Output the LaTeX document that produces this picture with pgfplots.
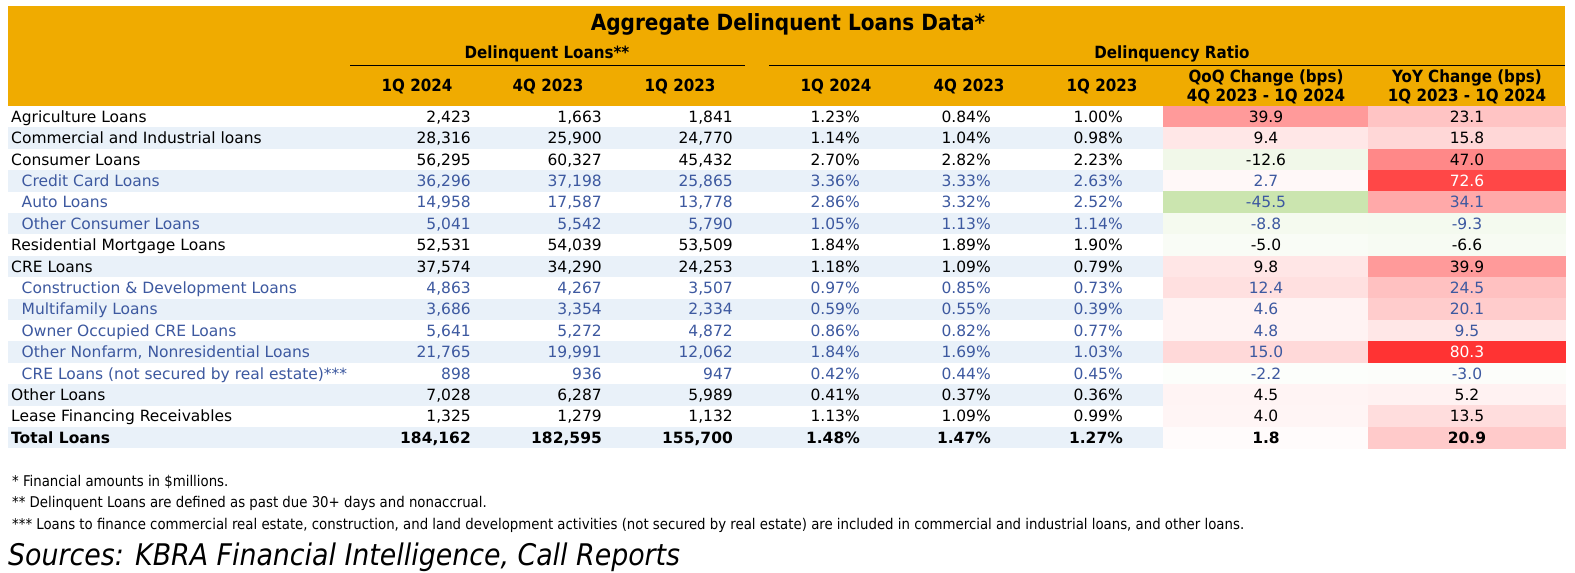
\documentclass[border=0pt]{standalone}
\usepackage{fontspec}
\setmainfont{DejaVu Sans}
\newfontfamily\condfont{DejaVu Sans Condensed}
\usepackage{pgfplots}
\usepackage{pgfplotstable}
\pgfplotsset{compat=1.18}
\pgfkeys{/pgf/number format/assume math mode=true}
\definecolor{hdr}{RGB}{240,171,0}
\definecolor{band}{RGB}{233,241,249}
\definecolor{subblue}{RGB}{61,89,160}

% r = row index, typ = row type (0 main, 1 sub-item, 2 total)
\pgfplotstableread{
r  typ c1     c2     c3     c4    c5    c6    c7     c8
0  0   2423   1663   1841   1.23  0.84  1.00  39.9   23.1
1  0   28316  25900  24770  1.14  1.04  0.98  9.4    15.8
2  0   56295  60327  45432  2.70  2.82  2.23  -12.6  47.0
3  1   36296  37198  25865  3.36  3.33  2.63  2.7    72.6
4  1   14958  17587  13778  2.86  3.32  2.52  -45.5  34.1
5  1   5041   5542   5790   1.05  1.13  1.14  -8.8   -9.3
6  0   52531  54039  53509  1.84  1.89  1.90  -5.0   -6.6
7  0   37574  34290  24253  1.18  1.09  0.79  9.8    39.9
8  1   4863   4267   3507   0.97  0.85  0.73  12.4   24.5
9  1   3686   3354   2334   0.59  0.55  0.39  4.6    20.1
10 1   5641   5272   4872   0.86  0.82  0.77  4.8    9.5
11 1   21765  19991  12062  1.84  1.69  1.03  15.0   80.3
12 1   898    936    947    0.42  0.44  0.45  -2.2   -3.0
13 0   7028   6287   5989   0.41  0.37  0.36  4.5    5.2
14 0   1325   1279   1132   1.13  1.09  0.99  4.0    13.5
15 2   184162 182595 155700 1.48  1.47  1.27  1.8    20.9
}\loandata

\newcommand{\bodyfont}{\fontsize{15.5}{18}\selectfont}
\newcommand{\hdrfont}{\condfont\bfseries\fontsize{16.8}{19}\selectfont}

% cell/.style: #1 = cap height of the font, so that the node centre sits mid-cap
\tikzset{cell/.style={inner sep=0pt, text height=#1, text depth=0pt}}
\pgfplotsset{
  vals/.style n args={3}{draw=none, mark=none, forget plot, point meta=explicit,
    nodes near coords={#2},
    every node near coord/.append style={anchor=#1, inner sep=0pt, text height=11.3pt,
      text depth=0pt, font=\bodyfont, text=#3}},
  sel/.style={restrict expr to domain={\thisrow{typ}}{#1}},
  heatcell/.style={scatter, only marks, mark=square*, mark size=10.7pt,
    point meta=explicit, point meta rel=per plot,
    point meta min=-80.3, point meta max=80.3,
    scatter/use mapped color={draw=mapped color, fill=mapped color},
    forget plot},
}
\newcommand{\rowy}{106+21.4*(\thisrow{r}+0.5)}
% #1 column, #2 x position, #3 anchor, #4 number format
\newcommand{\valcolumn}[4]{%
  \addplot[vals={#3}{#4}{black}, sel={-0.5:0.5}] table[x expr=#2, y expr={\rowy}, meta=#1] {\loandata};
  \addplot[vals={#3}{#4}{subblue}, sel={0.5:1.5}] table[x expr=#2, y expr={\rowy}, meta=#1] {\loandata};
  \addplot[vals={#3}{\bfseries #4}{black}, sel={1.5:2.5}] table[x expr=#2, y expr={\rowy}, meta=#1] {\loandata};
}

\begin{document}
\begin{tikzpicture}
\begin{axis}[
  width=1575pt, height=573pt, scale only axis,
  xmin=0, xmax=1575, ymin=0, ymax=573, y dir=reverse,
  hide axis, clip=false,
  colormap={heat}{rgb255=(163,209,114) rgb255=(255,255,255) rgb255=(255,51,51)},
]
% background and header band
\fill[white] (axis cs:0,0) rectangle (axis cs:1575,573);
\fill[hdr] (axis cs:8,6) rectangle (axis cs:1565,106);
% alternating row bands
\pgfplotsinvokeforeach{1,3,5,7,9,11,13,15}{
  \fill[band] (axis cs:8,{106+21.4*#1}) rectangle (axis cs:1163,{106+21.4*(#1+1)});
}
% heat-map cells
\addplot[heatcell, every mark/.append style={xscale=9.58}]
  table[x expr=1265.5, y expr={\rowy}, meta=c7] {\loandata};
\addplot[heatcell, every mark/.append style={xscale=9.21}]
  table[x expr=1466.5, y expr={\rowy}, meta=c8] {\loandata};

% header rules
\draw[line width=1.3pt] (axis cs:350,65.5) -- (axis cs:745,65.5);
\draw[line width=1.3pt] (axis cs:769,65.5) -- (axis cs:1565,65.5);

% header texts
\node[cell=16.2pt, font=\condfont\bfseries\fontsize{22.3}{26}\selectfont] at (axis cs:788,22.5) {Aggregate Delinquent Loans Data*};
\node[cell=12.2pt, font=\hdrfont] at (axis cs:547,52.5) {Delinquent Loans**};
\node[cell=12.2pt, font=\hdrfont] at (axis cs:1172,52.5) {Delinquency Ratio};
\node[cell=12.2pt, font=\hdrfont] at (axis cs:417,85.5) {1Q 2024};
\node[cell=12.2pt, font=\hdrfont] at (axis cs:548,85.5) {4Q 2023};
\node[cell=12.2pt, font=\hdrfont] at (axis cs:680,85.5) {1Q 2023};
\node[cell=12.2pt, font=\hdrfont] at (axis cs:836,85.5) {1Q 2024};
\node[cell=12.2pt, font=\hdrfont] at (axis cs:969,85.5) {4Q 2023};
\node[cell=12.2pt, font=\hdrfont] at (axis cs:1102,85.5) {1Q 2023};
\node[cell=12.2pt, font=\hdrfont] at (axis cs:1266,76) {QoQ Change (bps)};
\node[cell=12.2pt, font=\hdrfont] at (axis cs:1266,95) {4Q 2023 - 1Q 2024};
\node[cell=12.2pt, font=\hdrfont] at (axis cs:1467,76) {YoY Change (bps)};
\node[cell=12.2pt, font=\hdrfont] at (axis cs:1467,95) {1Q 2023 - 1Q 2024};

% row labels
\node[cell=11.3pt, anchor=west, font=\bodyfont] at (axis cs:11,{106+21.4*0.5}) {Agriculture Loans};
\node[cell=11.3pt, anchor=west, font=\bodyfont] at (axis cs:11,{106+21.4*1.5}) {Commercial and Industrial loans};
\node[cell=11.3pt, anchor=west, font=\bodyfont] at (axis cs:11,{106+21.4*2.5}) {Consumer Loans};
\node[cell=11.3pt, anchor=west, font=\bodyfont, text=subblue] at (axis cs:21.5,{106+21.4*3.5}) {Credit Card Loans};
\node[cell=11.3pt, anchor=west, font=\bodyfont, text=subblue] at (axis cs:21.5,{106+21.4*4.5}) {Auto Loans};
\node[cell=11.3pt, anchor=west, font=\bodyfont, text=subblue] at (axis cs:21.5,{106+21.4*5.5}) {Other Consumer Loans};
\node[cell=11.3pt, anchor=west, font=\bodyfont] at (axis cs:11,{106+21.4*6.5}) {Residential Mortgage Loans};
\node[cell=11.3pt, anchor=west, font=\bodyfont] at (axis cs:11,{106+21.4*7.5}) {CRE Loans};
\node[cell=11.3pt, anchor=west, font=\bodyfont, text=subblue] at (axis cs:21.5,{106+21.4*8.5}) {Construction \& Development Loans};
\node[cell=11.3pt, anchor=west, font=\bodyfont, text=subblue] at (axis cs:21.5,{106+21.4*9.5}) {Multifamily Loans};
\node[cell=11.3pt, anchor=west, font=\bodyfont, text=subblue] at (axis cs:21.5,{106+21.4*10.5}) {Owner Occupied CRE Loans};
\node[cell=11.3pt, anchor=west, font=\bodyfont, text=subblue] at (axis cs:21.5,{106+21.4*11.5}) {Other Nonfarm, Nonresidential Loans};
\node[cell=11.3pt, anchor=west, font=\bodyfont, text=subblue] at (axis cs:21.5,{106+21.4*12.5}) {CRE Loans (not secured by real estate)***};
\node[cell=11.3pt, anchor=west, font=\bodyfont] at (axis cs:11,{106+21.4*13.5}) {Other Loans};
\node[cell=11.3pt, anchor=west, font=\bodyfont] at (axis cs:11,{106+21.4*14.5}) {Lease Financing Receivables};
\node[cell=11.3pt, anchor=west, font=\bodyfont\bfseries] at (axis cs:11,{106+21.4*15.5}) {Total Loans};

% values
\valcolumn{c1}{471}{east}{\pgfmathprintnumber[fixed,precision=0,1000 sep={,}]{\pgfplotspointmeta}}
\valcolumn{c2}{602}{east}{\pgfmathprintnumber[fixed,precision=0,1000 sep={,}]{\pgfplotspointmeta}}
\valcolumn{c3}{733}{east}{\pgfmathprintnumber[fixed,precision=0,1000 sep={,}]{\pgfplotspointmeta}}
\valcolumn{c4}{860}{east}{\pgfmathprintnumber[fixed,fixed zerofill,precision=2]{\pgfplotspointmeta}\%}
\valcolumn{c5}{991}{east}{\pgfmathprintnumber[fixed,fixed zerofill,precision=2]{\pgfplotspointmeta}\%}
\valcolumn{c6}{1123}{east}{\pgfmathprintnumber[fixed,fixed zerofill,precision=2]{\pgfplotspointmeta}\%}
\valcolumn{c7}{1266}{center}{\pgfmathprintnumber[fixed,fixed zerofill,precision=1]{\pgfplotspointmeta}}
% YoY column: hot cells (above 60 bps) get white text
\addplot[vals={center}{\pgfmathprintnumber[fixed,fixed zerofill,precision=1]{\pgfplotspointmeta}}{black},
  restrict expr to domain={10*\thisrow{typ}+(\thisrow{c8}>60)}{-0.5:0.5}]
  table[x expr=1467, y expr={\rowy}, meta=c8] {\loandata};
\addplot[vals={center}{\pgfmathprintnumber[fixed,fixed zerofill,precision=1]{\pgfplotspointmeta}}{subblue},
  restrict expr to domain={10*\thisrow{typ}+(\thisrow{c8}>60)}{9.5:10.5}]
  table[x expr=1467, y expr={\rowy}, meta=c8] {\loandata};
\addplot[vals={center}{\pgfmathprintnumber[fixed,fixed zerofill,precision=1]{\pgfplotspointmeta}}{white},
  restrict expr to domain={10*\thisrow{typ}+(\thisrow{c8}>60)}{10.5:11.5}]
  table[x expr=1467, y expr={\rowy}, meta=c8] {\loandata};
\addplot[vals={center}{\bfseries\pgfmathprintnumber[fixed,fixed zerofill,precision=1]{\pgfplotspointmeta}}{black},
  restrict expr to domain={10*\thisrow{typ}+(\thisrow{c8}>60)}{19.5:20.5}]
  table[x expr=1467, y expr={\rowy}, meta=c8] {\loandata};

% footnotes
\node[cell=10.8pt, anchor=west, font=\condfont\fontsize{14.8}{17}\selectfont] at (axis cs:12,481.2) {* Financial amounts in \$millions.};
\node[cell=10.8pt, anchor=west, font=\condfont\fontsize{14.8}{17}\selectfont] at (axis cs:12,502) {** Delinquent Loans are defined as past due 30+ days and nonaccrual.};
\node[cell=10.8pt, anchor=west, font=\condfont\fontsize{14.8}{17}\selectfont] at (axis cs:12,524.5) {*** Loans to finance commercial real estate, construction, and land development activities (not secured by real estate) are included in commercial and industrial loans, and other loans.};
\node[cell=21.7pt, anchor=west, font=\condfont\itshape\fontsize{29.8}{34}\selectfont] at (axis cs:8,554.5) {Sources: KBRA Financial Intelligence, Call Reports};
\end{axis}
\end{tikzpicture}
\end{document}
